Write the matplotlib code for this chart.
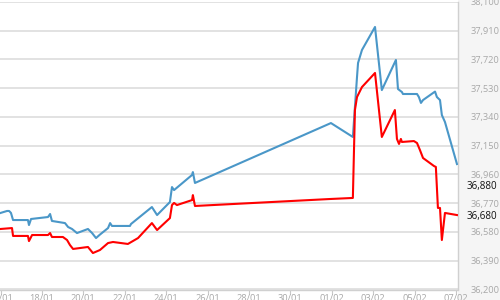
import matplotlib
matplotlib.use("Agg")
import matplotlib.pyplot as plt
from matplotlib.patches import Rectangle

plt.rcParams['font.family'] = ['Open Sans', 'DejaVu Sans']

# x in days since 16/01
blue_x = [0, 0.31, 0.41, 0.50, 0.60, 1.32, 1.37, 1.47, 2.29, 2.39, 2.48, 3.11, 3.26, 3.45,
          3.69, 4.22, 4.42, 4.61, 4.80, 5.19, 5.29, 5.38, 6.25, 6.30, 7.31, 7.56, 8.18,
          8.28, 8.38, 9.25, 9.29, 9.39, 15.96, 17.02, 17.22, 17.27, 17.46, 18.09, 18.42,
          19.10, 19.20, 19.39, 19.44, 20.12, 20.21, 20.31, 20.41, 20.99, 21.08, 21.23,
          21.32, 21.47, 22.05]
blue_y = [36706, 36719, 36719, 36706, 36659, 36659, 36626, 36666, 36679, 36699, 36653, 36639,
          36613, 36600, 36573, 36600, 36573, 36540, 36563, 36606, 36639, 36620, 36620, 36633,
          36745, 36692, 36778, 36877, 36857, 36957, 36976, 36904, 37300, 37208, 37604, 37697,
          37783, 37935, 37518, 37717, 37525, 37505, 37492, 37492, 37472, 37433, 37452, 37508,
          37472, 37452, 37353, 37307, 37029]

red_x = [0, 0.55, 0.60, 1.32, 1.37, 1.52, 2.29, 2.39, 2.48, 3.01, 3.21, 3.35, 3.50, 4.22,
         4.46, 4.80, 5.19, 5.43, 6.15, 6.64, 7.31, 7.56, 8.18, 8.28, 8.38, 8.52, 9.25, 9.29,
         9.39, 15.91, 17.02, 17.12, 17.22, 17.46, 18.09, 18.42, 19.05, 19.15, 19.25, 19.34,
         19.39, 19.97, 20.12, 20.26, 20.41, 20.94, 21.03, 21.13, 21.23, 21.32, 21.47, 22.05]
red_y = [36600, 36606, 36554, 36554, 36520, 36560, 36560, 36573, 36547, 36547, 36527, 36494,
         36468, 36481, 36441, 36461, 36507, 36514, 36501, 36540, 36639, 36593, 36672, 36758,
         36772, 36758, 36791, 36824, 36752, 36798, 36805, 37386, 37472, 37538, 37631, 37208,
         37386, 37195, 37162, 37195, 37175, 37181, 37168, 37122, 37069, 37016, 37010, 36739,
         36739, 36527, 36706, 36692]

x_tick_pos = [0, 2, 4, 6, 8, 10, 12, 14, 16, 18, 20, 22]
x_tick_labels = ['16/01', '18/01', '20/01', '22/01', '24/01', '26/01', '28/01', '30/01',
                 '01/02', '03/02', '05/02', '07/02']
y_ticks = [36200, 36390, 36580, 36770, 36960, 37150, 37340, 37530, 37720, 37910, 38100]
last_labels = [36880, 36680]

fig = plt.figure(figsize=(5, 3), dpi=100)
fig.patch.set_facecolor('#f5f5f5')
ax = fig.add_axes([0.0, 10.5 / 300, 458 / 500, 287.5 / 300])
ax.set_facecolor('white')
fig.patches.append(Rectangle((0, 0), 458 / 500, 1, transform=fig.transFigure,
                             facecolor='white', edgecolor='none', zorder=-5))

ax.plot(blue_x, blue_y, color='#4a97c8', lw=1.5, zorder=3)
ax.plot(red_x, red_y, color='#ff0000', lw=1.5, zorder=3)

ax.set_xlim(-0.03, 22.1)
ax.set_ylim(36200, 38100)
ax.set_yticks(y_ticks)
ax.set_yticklabels([f"{v:,}" for v in y_ticks])
ax.yaxis.tick_right()
ax.tick_params(axis='y', length=0, pad=9, labelsize=6.7, labelcolor='#a8a8a8')
ax.set_xticks(x_tick_pos)
ax.set_xticklabels(x_tick_labels)
ax.tick_params(axis='x', length=3, width=0.8, color='#c8c8c8', pad=0.5,
               labelsize=6.7, labelcolor='#a8a8a8')
ax.grid(axis='y', color='#dddddd', lw=1.2)
ax.set_axisbelow(True)
for s in ['left', 'top']:
    ax.spines[s].set_visible(False)
ax.spines['right'].set_color('#d0d0d0')
ax.spines['bottom'].set_color('#d0d0d0')
ax.spines['right'].set_linewidth(1.0)
ax.spines['bottom'].set_linewidth(1.0)

for v in last_labels:
    ax.text(1.0 + 9 / 458, v, f"{v:,}", transform=ax.get_yaxis_transform(),
            ha='left', va='center', fontsize=7.1, color='#111111', clip_on=False)

fig.savefig('out.png', dpi=100, facecolor=fig.get_facecolor())
